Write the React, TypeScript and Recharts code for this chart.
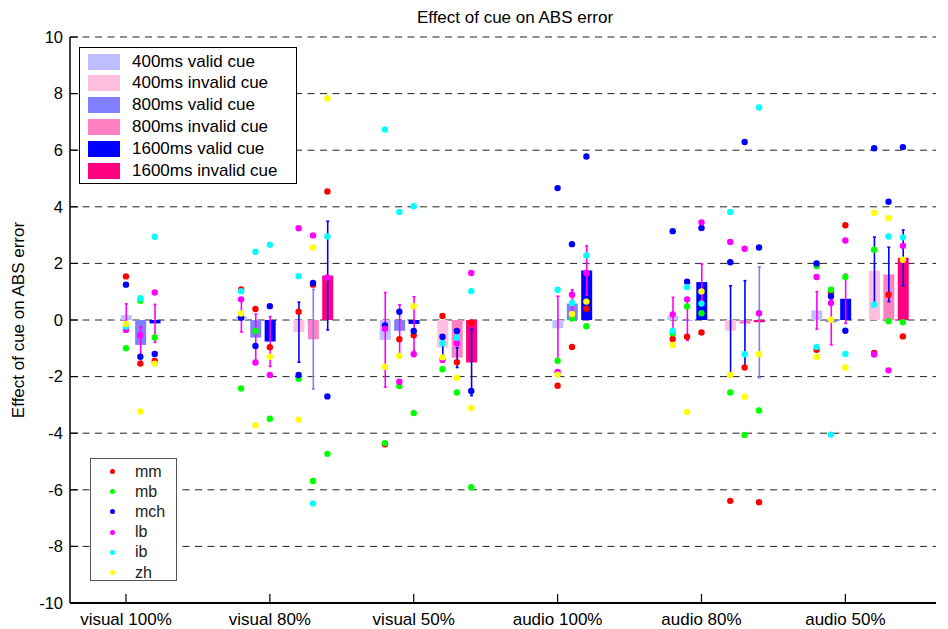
import React from 'react';
import {
  ComposedChart,
  Bar,
  Cell,
  ErrorBar,
  Scatter,
  XAxis,
  YAxis,
  CartesianGrid,
  Legend,
} from 'recharts';

const FONT = "'Liberation Sans', Arial, Helvetica, sans-serif";

const categories = ['visual 100%', 'visual 80%', 'visual 50%', 'audio 100%', 'audio 80%', 'audio 50%'];
const conditions = [
  '400ms valid cue',
  '400ms invalid cue',
  '800ms valid cue',
  '800ms invalid cue',
  '1600ms valid cue',
  '1600ms invalid cue',
];
const conditionColors = ['#BFBFFF', '#FFBFDF', '#8080FF', '#FF80C0', '#0000FF', '#FF0080'];
const conditionValid = [true, false, true, false, true, false];
// position of each condition's bar relative to its group tick (axis units)
const offsetsCued = [-0.2, 0.2, -0.1, 0.3, 0, 0.4];
const offsetsFull = [0, null, 0.1, null, 0.2, null];
const groupIsFull = [true, false, false, true, false, false];

const yTicks = [-10, -8, -6, -4, -2, 0, 2, 4, 6, 8, 10];
const xTicks = [1, 2, 3, 4, 5, 6];

// bar heights (group x condition), null = no bar
const barMeans: (number | null)[][] = [
  [0.17, null, -0.88, null, -0.12, null],
  [0.13, -0.43, -0.62, -0.68, -0.76, 1.57],
  [-0.7, -0.97, -0.38, -1.33, -0.14, -1.5],
  [-0.29, null, 0.58, null, 1.75, null],
  [0.15, -0.38, -0.02, -0.13, 1.34, -0.08],
  [0.34, 1.74, -0.08, 1.61, 0.75, 2.2],
];
const barErrors: (number | null)[][] = [
  [0.4, null, 0.64, null, 0.67, null],
  [0.55, 1.06, 0.83, 1.76, 0.88, 1.92],
  [1.67, 0.28, 0.92, 0.35, 0.96, 1.17],
  [1.13, null, 0.49, null, 0.87, null],
  [0.65, 1.59, 0.7, 1.52, 0.64, 1.96],
  [0.66, 1.19, 0.8, 0.96, 0.87, 0.98],
];
// error bars drawn in the lighter blue
const lightErrorBars = ['1-3', '4-5'];

const subjects = ['mm', 'mb', 'mch', 'lb', 'ib', 'zh'];
const subjectColors = ['#FF0000', '#00FF00', '#0000FF', '#FF00FF', '#00FFFF', '#FFFF00'];

const mm = [
  [1.54, null, -1.54, null, -1.45, null],
  [1.08, 0.29, 0.39, 1.25, -0.96, 4.54],
  [-4.39, 0.14, -0.68, -1.49, -0.54, -0.09],
  [-2.32, null, -0.95, null, 0.4, null],
  [-0.67, -6.39, -0.59, -1.68, -0.44, -6.44],
  [-1.05, -1.16, 0.98, 0.89, 3.35, -0.58],
];
const mb = [
  [-1.0, null, 0.68, null, -0.62, null],
  [-2.42, -2.08, -0.39, -5.69, -3.49, -4.73],
  [-4.35, -1.74, -2.33, -2.56, -3.29, -5.91],
  [-1.44, null, 0.05, null, -0.22, null],
  [-0.47, -2.56, 0.48, -4.06, 0.24, -3.2],
  [1.91, 2.48, 1.07, -0.04, 1.52, -0.08],
];
const mch = [
  [1.25, null, -1.3, null, -1.2, null],
  [0.08, -1.94, -0.92, 1.31, 0.49, -2.7],
  [-0.19, -0.59, 0.29, -0.39, -0.39, -2.51],
  [4.66, null, 2.68, null, 5.78, null],
  [3.14, 2.04, 1.35, 6.29, 3.25, 2.56],
  [2.0, 6.07, 0.84, 4.18, -0.38, 6.11],
];
const lb = [
  [-0.35, null, -0.54, null, 0.97, null],
  [0.73, 3.24, -1.5, 2.99, -1.94, 1.5],
  [-0.31, -1.41, -2.18, -0.82, -1.21, 1.66],
  [-1.84, null, 0.89, null, 1.66, null],
  [0.2, 2.76, 0.73, 2.52, 3.45, 0.24],
  [1.52, -1.22, 0.6, -1.78, 2.81, 2.62],
];
const ib = [
  [-0.23, null, 0.77, null, 2.94, null],
  [1.02, 1.55, 2.41, -6.48, 2.66, 2.95],
  [6.73, -0.82, 3.82, -0.62, 4.02, 1.02],
  [1.07, null, 0.6, null, 2.28, null],
  [-0.39, 3.82, 1.16, -1.21, 0.58, 7.51],
  [-0.95, 0.54, -4.05, 2.95, -1.2, 2.92],
];
const zh = [
  [-0.14, null, -3.23, null, -1.54, null],
  [0.23, -3.52, -3.72, 2.56, -1.3, 7.83],
  [-1.65, -1.32, -1.27, -2.04, 0.49, -3.11],
  [-1.93, null, 0.21, null, 0.65, null],
  [-0.88, -1.94, -3.25, -2.71, 1.01, -1.21],
  [-1.31, 3.79, 0.01, 3.6, -1.68, 2.13],
];
const subjectValues = [mm, mb, mch, lb, ib, zh];

type Row = { x: number; v: number; g: number; c: number; eV?: number; eI?: number; eL?: number };

const rows: Row[] = [];
categories.forEach((_, g) => {
  conditions.forEach((__, c) => {
    const v = barMeans[g][c];
    if (v == null) return;
    const off = groupIsFull[g] ? offsetsFull[c] : offsetsCued[c];
    if (off == null) return;
    const x = Math.round((g + 1 + off) * 100) / 100;
    const e = barErrors[g][c] as number;
    const row: Row = { x, v, g, c };
    if (conditionValid[c]) row.eV = e;
    else if (lightErrorBars.includes(`${g}-${c}`)) row.eL = e;
    else row.eI = e;
    rows.push(row);
  });
});

const scatterData = subjects.map((_, s) =>
  rows.map((r) => ({ x: r.x, y: subjectValues[s][r.g][r.c] as number }))
);

const PLOT_BOTTOM_LABEL_GAP = 22;

const BottomTick = (props: any) => {
  const { x, y, payload } = props;
  const label = categories[Math.round(payload.value) - 1];
  return (
    <g>
      <line x1={x} y1={y} x2={x} y2={y - 9} stroke="#000" strokeWidth={1.2} />
      <text x={x} y={y + PLOT_BOTTOM_LABEL_GAP} textAnchor="middle" fontSize={17} fill="#000" fontFamily={FONT}>
        {label}
      </text>
    </g>
  );
};

const TopTick = (props: any) => {
  const { x, y } = props;
  return <line x1={x} y1={y} x2={x} y2={y + 8} stroke="#000" strokeWidth={1.2} />;
};

const LeftTick = (props: any) => {
  const { x, y, payload } = props;
  return (
    <g>
      <line x1={x} y1={y} x2={x + 8} y2={y} stroke="#000" strokeWidth={1.2} />
      <text x={x - 7} y={y} dy="0.35em" textAnchor="end" fontSize={16.5} fill="#000" fontFamily={FONT}>
        {payload.value}
      </text>
    </g>
  );
};

const RightTick = (props: any) => {
  const { x, y } = props;
  return <line x1={x} y1={y} x2={x - 8} y2={y} stroke="#000" strokeWidth={1.2} />;
};

const renderLegends = () => (
  <div style={{ position: 'relative', width: 0, height: 0, fontFamily: FONT }}>
    <div
      style={{
        position: 'absolute',
        left: 79,
        top: 47,
        width: 218,
        height: 137,
        border: '1.2px solid #000',
        background: '#fff',
        boxSizing: 'border-box',
      }}
    >
      {conditions.map((name, i) => (
        <div key={name} style={{ position: 'absolute', left: 0, top: 13.5 + i * 21.9 - 10, height: 20, width: 216 }}>
          <div
            style={{
              position: 'absolute',
              left: 8,
              top: 2,
              width: 32,
              height: 16,
              background: conditionColors[i],
            }}
          />
          <div
            style={{
              position: 'absolute',
              left: 52,
              top: 0,
              height: 20,
              lineHeight: '20px',
              fontSize: 17,
              color: '#000',
              whiteSpace: 'nowrap',
            }}
          >
            {name}
          </div>
        </div>
      ))}
    </div>
    <div
      style={{
        position: 'absolute',
        left: 90,
        top: 458,
        width: 87,
        height: 123,
        border: '1.2px solid #555',
        background: '#fff',
        boxSizing: 'border-box',
      }}
    >
      {subjects.map((name, i) => (
        <div key={name} style={{ position: 'absolute', left: 0, top: 12.5 + i * 20.2 - 10, height: 20, width: 85 }}>
          <div
            style={{
              position: 'absolute',
              left: 18.5,
              top: 7.5,
              width: 5,
              height: 5,
              borderRadius: '50%',
              background: subjectColors[i],
            }}
          />
          <div
            style={{
              position: 'absolute',
              left: 44,
              top: 0,
              height: 20,
              lineHeight: '20px',
              fontSize: 16,
              color: '#222',
              whiteSpace: 'nowrap',
            }}
          >
            {name}
          </div>
        </div>
      ))}
    </div>
  </div>
);

const X_DOMAIN: [number, number] = [0.611, 6.63];

export default function App() {
  return (
    <div style={{ position: 'absolute', left: 0, top: 0, width: 948, height: 629, background: '#fff' }}>
      <ComposedChart
        width={948}
        height={629}
        data={rows}
        margin={{ top: 37, right: 12, bottom: 0, left: 0 }}
      >
        <CartesianGrid
          horizontal
          vertical={false}
          stroke="#222"
          strokeWidth={1}
          strokeDasharray="7 5.5"
        />
        <XAxis
          dataKey="x"
          type="number"
          domain={X_DOMAIN}
          allowDataOverflow
          ticks={xTicks}
          interval={0}
          height={26}
          tickSize={0}
          tickMargin={0}
          tick={BottomTick}
          axisLine={{ stroke: '#000', strokeWidth: 2 }}
          tickLine={false}
        />
        <XAxis
          xAxisId="top"
          orientation="top"
          dataKey="x"
          type="number"
          domain={X_DOMAIN}
          allowDataOverflow
          ticks={xTicks}
          interval={0}
          height={0}
          tickSize={0}
          tickMargin={0}
          tick={TopTick}
          axisLine={{ stroke: '#000', strokeWidth: 1.5 }}
          tickLine={false}
        />
        <YAxis
          type="number"
          domain={[-10, 10]}
          allowDataOverflow
          ticks={yTicks}
          interval={0}
          width={70}
          tickSize={0}
          tickMargin={0}
          tick={LeftTick}
          axisLine={{ stroke: '#000', strokeWidth: 1.5 }}
          tickLine={false}
        />
        <YAxis
          yAxisId="right"
          orientation="right"
          type="number"
          domain={[-10, 10]}
          allowDataOverflow
          ticks={yTicks}
          interval={0}
          width={0}
          tickSize={0}
          tickMargin={0}
          tick={RightTick}
          axisLine={{ stroke: '#000', strokeWidth: 1.5 }}
          tickLine={false}
        />
        <Bar dataKey="v" barSize={11} isAnimationActive={false}>
          {rows.map((r, i) => (
            <Cell key={i} fill={conditionColors[r.c]} />
          ))}
          <ErrorBar dataKey="eV" direction="y" width={1.5} stroke="#FF00FF" strokeWidth={1.6} isAnimationActive={false} />
          <ErrorBar dataKey="eI" direction="y" width={1.5} stroke="#0000FF" strokeWidth={1.6} isAnimationActive={false} />
          <ErrorBar dataKey="eL" direction="y" width={1.5} stroke="#7F7FFF" strokeWidth={1.6} isAnimationActive={false} />
        </Bar>
        {subjects.map((name, s) => (
          <Scatter
            key={name}
            name={name}
            data={scatterData[s]}
            dataKey="y"
            fill={subjectColors[s]}
            isAnimationActive={false}
            shape={(p: any) => <circle cx={p.cx} cy={p.cy} r={3.2} fill={subjectColors[s]} />}
          />
        ))}
        <Legend
          layout="vertical"
          align="center"
          verticalAlign="middle"
          content={renderLegends}
          wrapperStyle={{ position: 'absolute', left: 0, top: 0, width: 0, height: 0 }}
        />
      </ComposedChart>
      <div
        style={{
          position: 'absolute',
          left: 515,
          top: 8.5,
          transform: 'translateX(-50%)',
          fontFamily: FONT,
          fontSize: 17,
          lineHeight: '17px',
          whiteSpace: 'nowrap',
          color: '#000',
        }}
      >
        Effect of cue on ABS error
      </div>
      <div
        style={{
          position: 'absolute',
          left: 18,
          top: 320,
          transform: 'translate(-50%, -50%) rotate(-90deg)',
          fontFamily: FONT,
          fontSize: 17,
          lineHeight: '17px',
          whiteSpace: 'nowrap',
          color: '#000',
        }}
      >
        Effect of cue on ABS error
      </div>
    </div>
  );
}
